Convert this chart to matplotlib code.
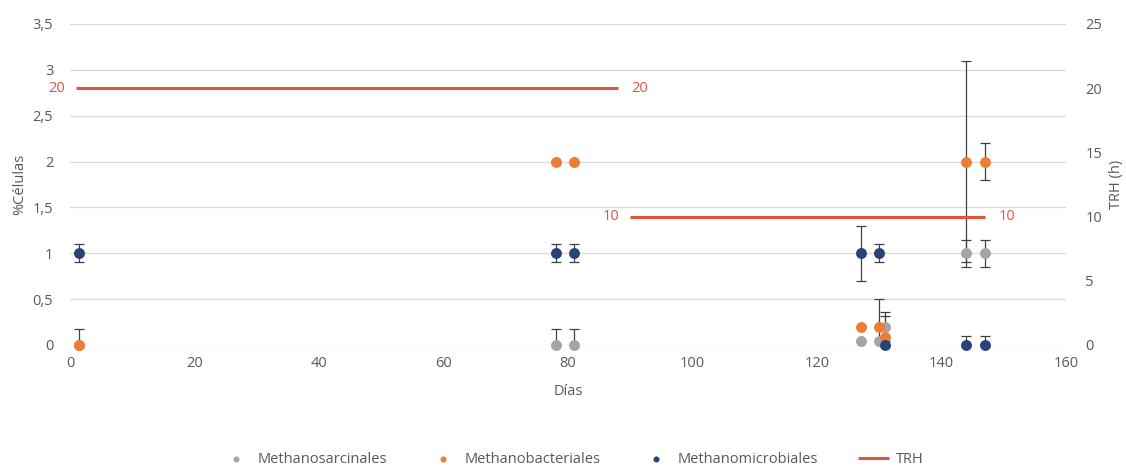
"""scatter of archaeal orders (% cells) over time with the HRT steps"""

import matplotlib.pyplot as plt
import numpy

plt.rcParams['font.family'] = ['Open Sans', 'DejaVu Sans']

DAYS = [1.4, 78, 81, 127, 130, 131, 144, 147]

SARCINALES = [0, 0, 0, 0.04, 0.04, 0.2, 1, 1]
SARCINALES_ERR = [0.17, 0.17, 0.17, 0, 0, 0.16, 0.15, 0.15]

BACTERIALES = [0, 2, 2, 0.2, 0.2, 0.09, 2, 2]
BACTERIALES_ERR = [0, 0, 0, 0, 0.3, 0.23, 1.1, 0.2]

MICROBIALES = [1, 1, 1, 1, 1, 0, 0, 0]
MICROBIALES_ERR = [0.1, 0.1, 0.1, 0.3, 0.1, 0, 0.1, 0.1]

TRH_STEPS = [(1, 88, 20), (90, 147, 10)]

TEXT_GREY = '#595959'
RED = '#E0533F'

fig = plt.figure(figsize=(11.26, 4.66), dpi=100)
ax = fig.add_axes([0.0622, 0.2597, 0.8845, 0.6888])
ax2 = ax.twinx()

series = [
    ('Methanosarcinales', SARCINALES, SARCINALES_ERR, '#A5A5A5'),
    ('Methanobacteriales', BACTERIALES, BACTERIALES_ERR, '#ED7D31'),
    ('Methanomicrobiales', MICROBIALES, MICROBIALES_ERR, '#264478'),
]

handles = []
for name, vals, errs, col in series:
    ax.errorbar(DAYS, vals, yerr=errs, fmt='none', ecolor='#404040',
                elinewidth=0.9, capsize=3.5, capthick=0.9, zorder=2)
for name, vals, errs, col in series:
    h = ax.scatter(DAYS, vals, s=62, color=col, zorder=3, clip_on=False,
                   label=name, linewidths=0)
    handles.append(h)

for beg, end, val in TRH_STEPS:
    line, = ax2.plot([beg, end], [val, val], color=RED, linewidth=2.2,
                     label='TRH', solid_capstyle='butt')
    ax2.annotate(str(val), (beg, val), xytext=(-8, 0),
                 textcoords='offset points', ha='right', va='center',
                 color=RED, fontsize=10.5, annotation_clip=False)
    ax2.annotate(str(val), (end, val), xytext=(10, 0),
                 textcoords='offset points', ha='left', va='center',
                 color=RED, fontsize=10.5, annotation_clip=False)
handles.append(line)

ax.set_xlim(0, 160)
ax.set_ylim(0, 3.5)
ax2.set_ylim(0, 25)
ax.set_xticks(numpy.arange(0, 161, 20))
ax.set_yticks(numpy.arange(0, 3.51, 0.5))
ax.set_yticklabels([f'{v:g}'.replace('.', ',') for v in numpy.arange(0, 3.51, 0.5)])
ax2.set_yticks(numpy.arange(0, 26, 5))

ax.grid(axis='y', color='#D9D9D9', linewidth=0.9)
ax.set_axisbelow(True)
for a in (ax, ax2):
    for sp in a.spines.values():
        sp.set_visible(False)
    a.tick_params(length=0, labelsize=10.5, colors=TEXT_GREY)
ax.tick_params(axis='y', pad=12)
ax.tick_params(axis='x', pad=8)
ax2.tick_params(axis='y', pad=14)

ax.set_xlabel('Días', fontsize=10.5, color=TEXT_GREY, labelpad=9)
ax.set_ylabel('%Células', fontsize=10.5, color=TEXT_GREY, labelpad=4)
ax2.set_ylabel('TRH (h)', fontsize=10.5, color=TEXT_GREY, labelpad=5)

fig.legend(handles=handles, loc='lower center', bbox_to_anchor=(0.508, -0.03),
           ncol=4, frameon=False, fontsize=10.5, labelcolor=TEXT_GREY,
           markerscale=0.55, handlelength=2.1, columnspacing=2.75,
           handletextpad=0.45)

plt.savefig('out.png', dpi=100)
